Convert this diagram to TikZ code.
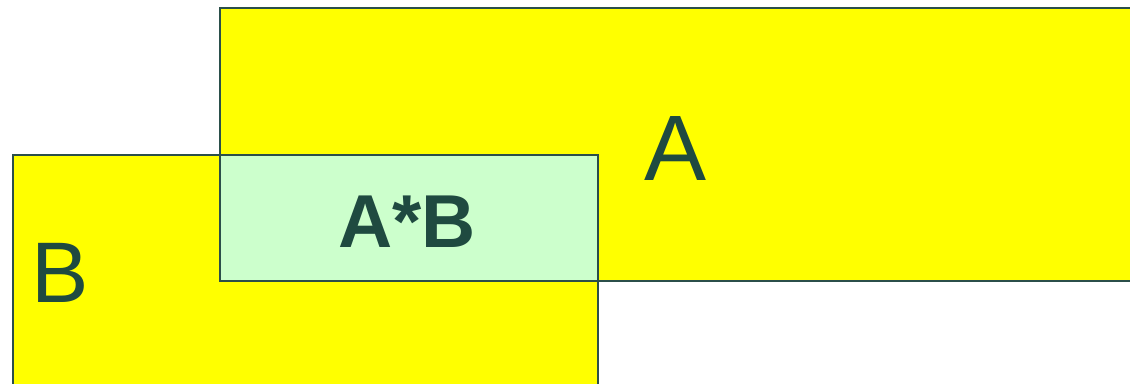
\documentclass[tikz,border=0pt]{standalone}
\usepackage{fontspec}
\setmainfont{Liberation Sans}
\usetikzlibrary{positioning}
\definecolor{setyellow}{HTML}{FFFF00}
\definecolor{overlapgreen}{HTML}{CCFFCC}
\definecolor{edgeteal}{HTML}{2B4F4A}
\definecolor{labelgreen}{HTML}{1F4A40}
\tikzstyle{setbox} = [fill=setyellow, draw=edgeteal, line width=2pt]
\tikzstyle{overlapbox} = [fill=overlapgreen, draw=edgeteal, line width=2pt]
\tikzstyle{setlabel} = [text=labelgreen, anchor=base, inner sep=0pt]

\begin{document}
\begin{tikzpicture}[x=1pt, y=-1pt]

\useasboundingbox (0,0) rectangle (1130,383);
\clip (0,0) rectangle (1130,383);

% --- Sets ---
\draw[setbox] (220,8) rectangle (1160,281);
\draw[setbox] (13,155) rectangle (598,420);
\draw[overlapbox] (220,155) rectangle (598,281);

% --- Labels ---
\node[setlabel, font=\fontsize{93}{93}\selectfont] (labA) at (676,180) {A};
\node[setlabel, font=\fontsize{86}{86}\selectfont] (labB) at (60,302) {B};
\node[setlabel, font=\fontsize{75}{75}\selectfont\bfseries] (labAB) at (407,247) {A*B};

\end{tikzpicture}
\end{document}
